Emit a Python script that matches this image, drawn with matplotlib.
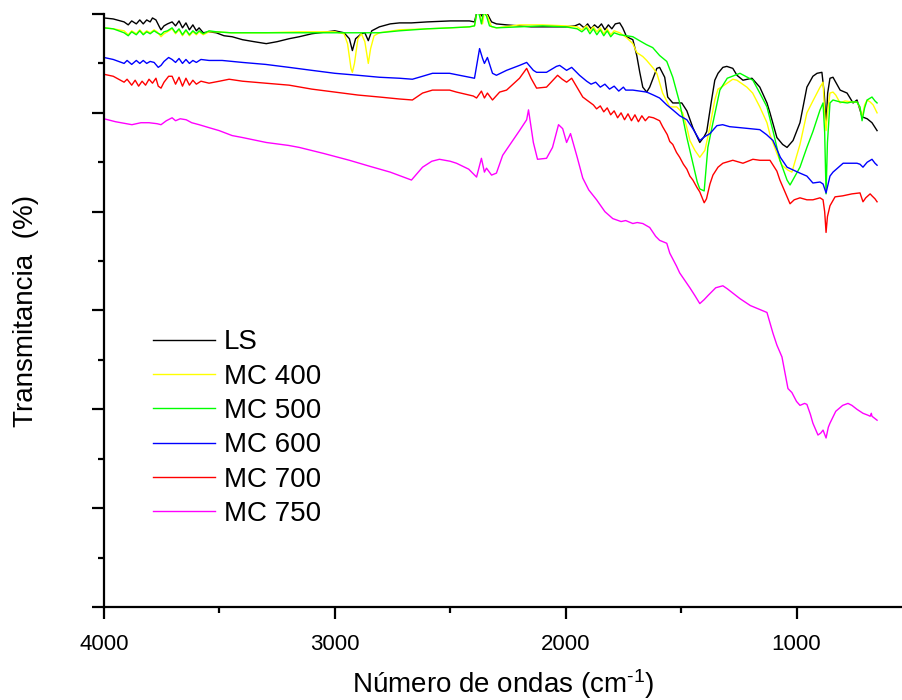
import matplotlib
matplotlib.use('Agg')
import matplotlib.pyplot as plt
from matplotlib.ticker import MultipleLocator

plt.rcParams['font.family'] = 'Liberation Sans'
plt.rcParams['mathtext.fontset'] = 'custom'
plt.rcParams['mathtext.rm'] = 'Liberation Sans'
plt.rcParams['mathtext.it'] = 'Liberation Sans:italic'

# FTIR spectra: (wavenumber cm-1, transmittance in arbitrary units)
ls = [(4000,596),(3960,595),(3913,592),(3895,589),(3880,593),(3860,590),(3845,594),(3830,590),(3815,594),(3800,592),
      (3790,596),(3775,594),(3760,587),(3753,584),(3740,588),(3725,590),(3705,592),(3690,588),(3675,593),(3660,586),
      (3645,591),(3630,584),(3615,589),(3600,583),(3588,586),(3570,581),(3545,582),(3514,581),(3480,578),(3445,577),
      (3400,574),(3350,572),(3297,570),(3250,572),(3198,575),(3154,577),(3100,580),(3067,581),(3000,583),(2960,581),
      (2937,575),(2924,563),(2910,575),(2885,580),(2870,581),(2855,573),(2840,583),(2807,587),(2760,590),(2720,591),
      (2668,591),(2600,592),(2500,593),(2417,593),(2395,592),(2382,605),(2365,598),(2352,603),(2339,600),(2321,592),
      (2300,590),(2256,589),(2200,588),(2150,587),(2083,587),(2000,587),(1960,588),(1940,590),(1920,586),(1905,590),
      (1890,585),(1875,589),(1860,586),(1845,590),(1830,584),(1815,589),(1800,585),(1785,590),(1766,591),(1753,586),
      (1736,577),(1709,574),(1692,558),(1679,541),(1666,526),(1649,521),(1636,526),(1605,545),(1593,546),(1571,536),
      (1558,516),(1536,510),(1497,510),(1475,502),(1449,485),(1419,470),(1400,476),(1389,481),(1370,510),(1354,533),
      (1340,540),(1319,546),(1302,547),(1276,545),(1258,538),(1232,533),(1193,535),(1159,526),(1128,510),(1115,500),
      (1085,475),(1060,468),(1041,465),(1015,472),(985,490),(955,526),(929,537),(911,540),(890,541),(880,520),
      (872,488),(865,520),(855,535),(842,536),(811,523),(781,520),(755,510),(738,513),(716,496),(694,494),
      (673,490),(651,482)]

mc400 = [(4000,586),(3960,585),(3913,583),(3895,579),(3880,583),(3860,580),(3845,584),(3830,580),(3815,583),(3800,581),
         (3783,584),(3770,582),(3753,577),(3740,580),(3725,582),(3705,585),(3690,580),(3675,584),(3660,578),(3645,583),
         (3630,578),(3615,582),(3600,579),(3588,582),(3570,579),(3545,582),(3514,582),(3450,581),(3300,581),(3154,582),
         (3000,582),(2960,580),(2945,570),(2930,545),(2924,541),(2915,550),(2900,575),(2885,580),(2870,572),(2855,550),
         (2845,565),(2830,578),(2807,581),(2720,584),(2600,585),(2500,586),(2417,587),(2395,588),(2382,605),(2373,600),
         (2360,590),(2352,603),(2339,598),(2321,587),(2300,586),(2200,589),(2100,589),(2000,588),(1950,587),(1930,584),
         (1910,588),(1895,583),(1880,587),(1865,582),(1850,586),(1835,580),(1820,585),(1805,579),(1790,583),(1766,581),
         (1736,576),(1709,570),(1692,561),(1666,557),(1649,553),(1620,545),(1605,540),(1580,520),(1549,506),(1519,506),
         (1493,500),(1475,485),(1462,472),(1440,462),(1419,455),(1397,462),(1380,480),(1354,513),(1340,524),(1319,527),
         (1276,534),(1258,533),(1215,526),(1190,520),(1159,506),(1128,490),(1115,478),(1085,459),(1063,447),(1037,442),
         (1020,440),(985,468),(955,500),(929,512),(898,526),(885,531),(878,500),(872,482),(866,500),(855,520),
         (842,521),(830,518),(811,510),(790,512),(760,511),(738,511),(725,505),(716,495),(705,508),(694,513),
         (681,511),(668,508),(651,500)]

mc500 = [(4000,586),(3960,585),(3913,581),(3895,578),(3880,582),(3860,579),(3845,583),(3830,579),(3815,582),(3800,580),
         (3783,583),(3770,581),(3753,579),(3740,582),(3725,583),(3705,586),(3690,581),(3675,585),(3660,579),(3645,584),
         (3630,579),(3615,583),(3600,580),(3588,583),(3570,580),(3545,583),(3514,582),(3450,581),(3300,581),(3154,581),
         (3000,581),(2900,581),(2807,581),(2720,583),(2600,585),(2500,586),(2417,587),(2395,588),(2382,605),(2373,598),
         (2365,590),(2356,602),(2343,598),(2330,588),(2300,586),(2200,587),(2100,588),(2000,587),(1950,585),(1930,582),
         (1910,586),(1895,580),(1880,585),(1865,579),(1850,584),(1835,578),(1820,583),(1805,577),(1790,581),(1766,579),
         (1736,578),(1709,577),(1680,573),(1650,569),(1623,566),(1593,558),(1562,552),(1536,536),(1506,510),(1475,475),
         (1449,449),(1430,430),(1419,423),(1400,421),(1384,465),(1362,490),(1332,523),(1300,535),(1245,540),(1189,533),
         (1159,520),(1128,506),(1100,480),(1072,452),(1041,432),(1028,427),(985,445),(955,465),(929,481),(898,503),
         (885,510),(878,480),(872,418),(866,470),(855,510),(842,513),(811,511),(780,510),(760,511),(738,511),
         (725,506),(716,492),(705,505),(694,513),(673,516),(660,512),(651,510)]

mc600 = [(4000,556),(3960,554),(3913,550),(3900,553),(3880,549),(3860,553),(3845,550),(3830,553),(3815,550),(3800,552),
         (3783,551),(3765,546),(3753,548),(3740,552),(3720,556),(3705,554),(3690,551),(3675,555),(3660,550),(3645,554),
         (3630,550),(3615,553),(3600,551),(3580,554),(3545,553),(3488,553),(3400,551),(3300,549),(3198,546),(3100,543),
         (3000,540),(2900,538),(2807,536),(2720,535),(2664,534),(2620,537),(2577,540),(2503,540),(2460,538),(2395,535),
         (2373,565),(2360,555),(2352,550),(2339,556),(2317,540),(2300,538),(2256,543),(2200,548),(2169,551),(2140,543),
         (2126,541),(2083,541),(2040,547),(2026,548),(1996,543),(1974,546),(1940,538),(1909,532),(1890,529),(1870,531),
         (1850,526),(1830,529),(1810,524),(1790,527),(1770,522),(1750,526),(1740,523),(1709,523),(1679,522),(1649,521),
         (1620,518),(1593,515),(1562,508),(1536,503),(1506,497),(1475,493),(1449,484),(1419,472),(1397,476),(1375,479),
         (1345,487),(1320,488),(1290,486),(1245,485),(1202,484),(1159,483),(1130,478),(1102,472),(1070,455),(1041,445),
         (985,439),(955,436),(929,429),(898,430),(885,428),(872,419),(855,436),(842,440),(798,449),(760,449),
         (738,449),(725,448),(712,445),(694,450),(673,453),(660,449),(651,447)]

mc700 = [(4000,539),(3960,537),(3913,531),(3900,534),(3880,528),(3865,533),(3850,527),(3835,532),(3820,528),(3805,534),
         (3790,530),(3775,535),(3765,527),(3753,525),(3740,531),(3720,537),(3705,537),(3690,529),(3675,536),(3660,527),
         (3645,535),(3630,528),(3615,533),(3600,529),(3580,532),(3545,530),(3500,532),(3458,534),(3400,532),(3300,530),
         (3198,528),(3100,524),(3000,521),(2900,518),(2807,516),(2720,514),(2664,513),(2620,520),(2577,523),(2503,523),
         (2473,521),(2400,517),(2386,515),(2365,522),(2352,515),(2339,520),(2317,513),(2286,521),(2256,523),(2200,535),
         (2169,545),(2150,535),(2126,525),(2083,526),(2035,538),(2015,534),(1996,531),(1974,535),(1926,516),(1909,513),
         (1880,508),(1866,504),(1850,507),(1835,501),(1820,505),(1805,498),(1790,502),(1775,495),(1760,500),(1745,493),
         (1730,499),(1715,492),(1700,498),(1685,491),(1670,497),(1655,492),(1640,496),(1620,495),(1593,492),(1580,486),
         (1560,478),(1549,471),(1536,468),(1520,460),(1506,455),(1490,448),(1475,443),(1462,436),(1449,432),(1430,424),
         (1419,420),(1400,409),(1390,413),(1375,428),(1362,437),(1340,445),(1319,449),(1276,452),(1232,449),(1189,453),
         (1159,452),(1115,452),(1085,441),(1072,432),(1050,420),(1028,408),(1010,412),(985,414),(955,412),(929,412),
         (898,414),(885,412),(878,400),(872,379),(866,395),(855,406),(833,415),(800,416),(760,418),(725,419),
         (712,410),(700,414),(681,418),(673,416),(660,413),(651,410)]

mc750 = [(4000,494),(3950,491),(3879,488),(3840,490),(3805,490),(3770,489),(3753,488),(3730,492),(3705,495),(3690,492),
         (3670,494),(3644,493),(3620,490),(3588,488),(3545,485),(3501,482),(3445,477),(3400,475),(3297,470),(3200,467),
         (3154,465),(3050,459),(2937,452),(2850,446),(2760,440),(2668,432),(2620,445),(2580,451),(2547,453),(2500,451),
         (2473,449),(2420,443),(2386,435),(2365,454),(2352,440),(2343,444),(2321,437),(2300,439),(2273,457),(2200,482),
         (2169,493),(2161,503),(2140,470),(2122,453),(2083,454),(2057,465),(2031,488),(2013,484),(1996,470),(1979,479),
         (1950,455),(1926,434),(1900,422),(1866,412),(1830,400),(1796,393),(1760,390),(1740,391),(1709,388),(1690,389),
         (1666,388),(1636,384),(1610,375),(1593,371),(1562,368),(1549,358),(1520,345),(1506,338),(1462,323),(1440,315),
         (1419,307),(1400,311),(1384,315),(1350,323),(1319,325),(1300,322),(1245,312),(1200,305),(1128,298),(1102,277),
         (1085,265),(1063,253),(1037,221),(1020,217),(1000,208),(985,204),(965,206),(955,205),(940,195),(929,186),
         (907,174),(895,176),(885,179),(872,171),(862,182),(855,186),(830,198),(800,204),(777,206),(760,204),
         (738,200),(712,196),(690,194),(681,193),(676,196),(673,193),(651,189)]

series = [ls, mc400, mc500, mc600, mc700, mc750]
labels = ['LS', 'MC 400', 'MC 500', 'MC 600', 'MC 700', 'MC 750']
colors = ['#000000', '#FFFF00', '#00FF00', '#0000FF', '#FF0000', '#FF00FF']

fig = plt.figure(figsize=(9.02, 7.0), dpi=100)
ax = fig.add_axes([104/902, 93/700, 798/902, 593/700])

for s, lab, c in zip(series, labels, colors):
    wn, t = zip(*s)
    ax.plot(wn, t, color=c, lw=1.0, label=lab)

ax.set_xlim(4000, 543)
ax.set_ylim(0, 600)
ax.xaxis.set_major_locator(MultipleLocator(1000))
ax.xaxis.set_minor_locator(MultipleLocator(500))
ax.yaxis.set_major_locator(MultipleLocator(100))
ax.yaxis.set_minor_locator(MultipleLocator(50))

for side in ['top', 'right']:
    ax.spines[side].set_visible(False)
for side in ['left', 'bottom']:
    ax.spines[side].set_linewidth(1.6)

ax.tick_params(which='major', direction='out', length=8.5, width=1.6, labelsize=16, pad=11)
ax.tick_params(which='minor', direction='out', length=4.5, width=1.6)
ax.tick_params(axis='y', labelleft=False)

ax.set_xlabel(r'Número de ondas (cm$^{\text{-1}}$)', fontsize=20, labelpad=9)
ax.set_ylabel('Transmitancia  (%)', fontsize=20)
ax.yaxis.set_label_coords(-0.081, 0.5)

ax.legend(loc='upper left', bbox_to_anchor=(0.0614, 0.468), frameon=False, fontsize=20,
          handlelength=2.25, handletextpad=0.3, labelspacing=0.3, borderaxespad=0, borderpad=0)

fig.savefig('out.png', dpi=100)
